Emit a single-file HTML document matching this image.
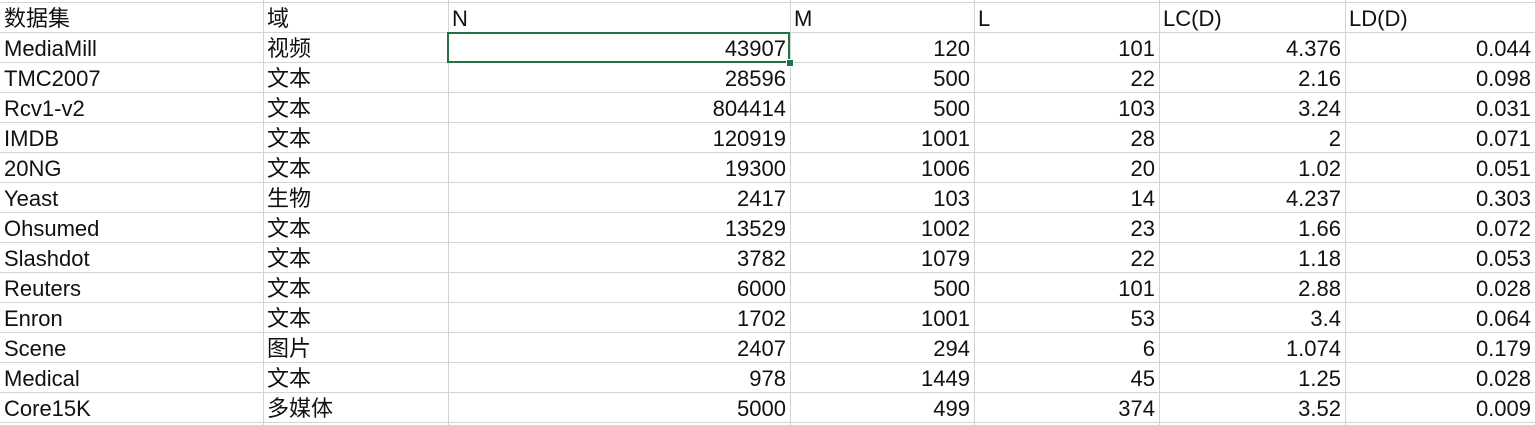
<!DOCTYPE html>
<html><head><meta charset="utf-8"><style>
body{margin:0;width:1535px;height:425px;overflow:hidden;background:#fff;font-family:"Liberation Sans","Noto Sans CJK SC",sans-serif;}
#sheet{position:absolute;left:0;top:0;width:1535px;height:425px;}
.c{position:absolute;height:30px;line-height:34px;font-size:22px;color:#111;box-sizing:border-box;padding:0 4px;white-space:nowrap;overflow:hidden;}
.r{text-align:right;}
.h{position:absolute;left:0;width:1535px;height:1px;background:#d4d4d4;}
.v{position:absolute;top:0;height:425px;width:1px;background:#d4d4d4;}
#sel{position:absolute;left:447px;top:32px;width:343px;height:31px;border:2px solid #217346;box-sizing:border-box;}
#handle{position:absolute;left:786px;top:59px;width:6px;height:6px;background:#217346;border:1px solid #fff;}
</style></head><body>
<div id="sheet"></div>
<script>
const cols=[0,263,448,790,974,1159,1345,1535];
const headers=["数据集","域","N","M","L","LC(D)","LD(D)"];
const names=["MediaMill","TMC2007","Rcv1-v2","IMDB","20NG","Yeast","Ohsumed","Slashdot","Reuters","Enron","Scene","Medical","Core15K"];
const domains=["视频","文本","文本","文本","文本","生物","文本","文本","文本","文本","图片","文本","多媒体"];
const nVals=["43907","28596","804414","120919","19300","2417","13529","3782","6000","1702","2407","978","5000"];
const mVals=["120","500","500","1001","1006","103","1002","1079","500","1001","294","1449","499"];
const lVals=["101","22","103","28","20","14","23","22","101","53","6","45","374"];
const lcVals=["4.376","2.16","3.24","2","1.02","4.237","1.66","1.18","2.88","3.4","1.074","1.25","3.52"];
const ldVals=["0.044","0.098","0.031","0.071","0.051","0.303","0.072","0.053","0.028","0.064","0.179","0.028","0.009"];
const sheet=document.getElementById('sheet');
for(let i=0;i<15;i++){const h=document.createElement('div');h.className='h';h.style.top=(2+30*i)+'px';


sheet.appendChild(h);}
for(let j=1;j<cols.length-1;j++){const v=document.createElement('div');v.className='v';v.style.left=cols[j]+'px';


sheet.appendChild(v);}
function cell(text,row,col,right,name){const d=document.createElement('div');d.className='c'+(right?' r':'');
d.style.left=cols[col]+'px';d.style.width=(cols[col+1]-cols[col])+'px';d.style.top=(2+30*row)+'px';d.textContent=text;


sheet.appendChild(d);}
headers.forEach((t,j)=>cell(t,0,j,false,'header-cell'));
const data=[names,domains,nVals,mVals,lVals,lcVals,ldVals];
for(let i=0;i<names.length;i++){for(let j=0;j<7;j++){cell(data[j][i],i+1,j,j>=2,'data-cell');}}
const s=document.createElement('div');s.id='sel';


sheet.appendChild(s);
const hd=document.createElement('div');hd.id='handle';


sheet.appendChild(hd);
</script>
</body></html>
